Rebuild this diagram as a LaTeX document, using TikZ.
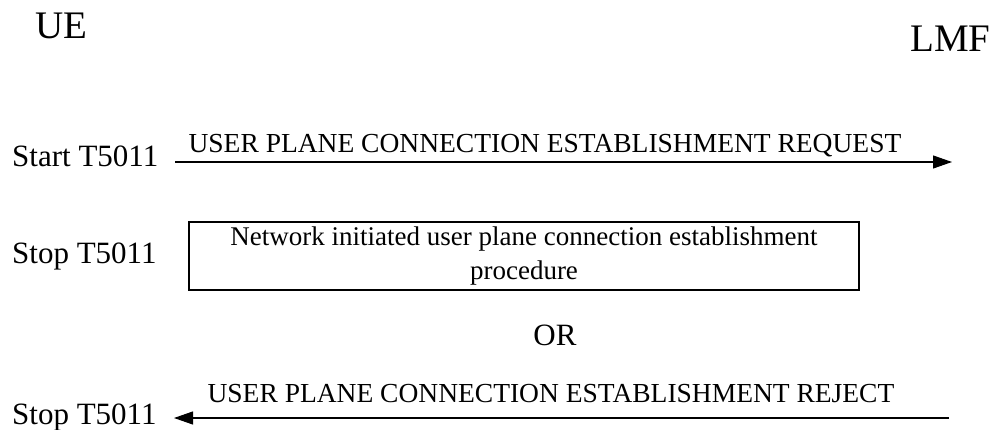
\documentclass[tikz,border=0pt]{standalone}
\usepackage{fontspec}
\setmainfont{Liberation Serif}
\usetikzlibrary{arrows.meta}
\begin{document}
\begin{tikzpicture}[x=1pt,y=1pt,
  entity/.style={font=\fontsize{39}{44}\selectfont, inner sep=0pt},
  timer/.style={font=\fontsize{31}{36}\selectfont, inner sep=0pt},
  msglabel/.style={font=\fontsize{27.5}{32}\selectfont, inner sep=0pt},
  procbox/.style={draw, line width=1.4pt, minimum width=670pt, minimum height=68pt,
    align=center, font=\fontsize{27}{34}\selectfont, inner sep=0pt},
  msg/.style={line width=1.1pt, -{Triangle[length=19pt,width=13pt]}}]
\useasboundingbox (0,0) rectangle (996,-430);
% entities
\node[entity, anchor=base west] (ue) at (35,-39) {UE};
\node[entity, anchor=base west] (lmf) at (910,-52) {LMF};
% request
\node[timer, anchor=base west] (start) at (12,-167) {Start T5011};
\coordinate (reqA) at (175,-162);
\coordinate (reqB) at (952,-162);
\draw[msg] (reqA) -- (reqB);
\node[msglabel, anchor=base] (reqlab) at (545,-153) {USER PLANE CONNECTION ESTABLISHMENT REQUEST};
% procedure
\node[timer, anchor=base west] (stop1) at (12,-264) {Stop T5011};
\node[procbox] (proc) at (524,-256) {Network initiated user plane connection establishment\\procedure};
% or
\node[timer, anchor=base] (or) at (555,-345) {OR};
% reject
\node[timer, anchor=base west] (stop2) at (12,-424) {Stop T5011};
\coordinate (rejA) at (949,-418);
\coordinate (rejB) at (174,-418);
\draw[msg] (rejA) -- (rejB);
\node[msglabel, anchor=base] (rejlab) at (551,-402) {USER PLANE CONNECTION ESTABLISHMENT REJECT};
\end{tikzpicture}
\end{document}
